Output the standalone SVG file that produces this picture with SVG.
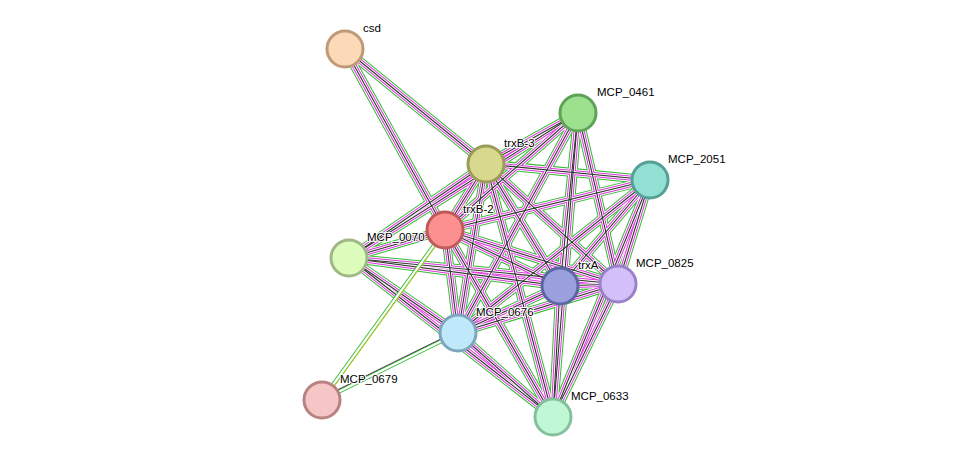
<svg xmlns="http://www.w3.org/2000/svg" xmlns:xlink="http://www.w3.org/1999/xlink" width="976" height="463" viewBox="0 0 976 463">
<style>
text{font-family:"Liberation Sans",Arial,sans-serif;font-size:11.5px;fill:#000;paint-order:stroke;stroke:#fff;stroke-width:2px}
circle{stroke-width:3}
</style>
<defs>
<g id="E" fill="none">
<line x1="345" y1="49" x2="486" y2="164"/><line x1="345" y1="49" x2="445" y2="230"/>
<line x1="578" y1="113" x2="486" y2="164"/><line x1="578" y1="113" x2="445" y2="230"/><line x1="578" y1="113" x2="349" y2="258"/><line x1="578" y1="113" x2="560" y2="286"/><line x1="578" y1="113" x2="618" y2="284"/><line x1="578" y1="113" x2="458" y2="333"/><line x1="578" y1="113" x2="553" y2="417"/>
<line x1="486" y1="164" x2="650" y2="180"/><line x1="486" y1="164" x2="445" y2="230"/><line x1="486" y1="164" x2="349" y2="258"/><line x1="486" y1="164" x2="560" y2="286"/><line x1="486" y1="164" x2="618" y2="284"/><line x1="486" y1="164" x2="458" y2="333"/><line x1="486" y1="164" x2="553" y2="417"/>
<line x1="650" y1="180" x2="445" y2="230"/><line x1="650" y1="180" x2="560" y2="286"/><line x1="650" y1="180" x2="618" y2="284"/><line x1="650" y1="180" x2="458" y2="333"/><line x1="650" y1="180" x2="553" y2="417"/>
<line x1="445" y1="230" x2="349" y2="258"/><line x1="445" y1="230" x2="560" y2="286"/><line x1="445" y1="230" x2="618" y2="284"/><line x1="445" y1="230" x2="458" y2="333"/><line x1="445" y1="230" x2="553" y2="417"/>
<line x1="349" y1="258" x2="560" y2="286"/><line x1="349" y1="258" x2="618" y2="284"/><line x1="349" y1="258" x2="458" y2="333"/><line x1="349" y1="258" x2="553" y2="417"/>
<line x1="560" y1="286" x2="618" y2="284"/><line x1="560" y1="286" x2="458" y2="333"/><line x1="560" y1="286" x2="553" y2="417"/>
<line x1="618" y1="284" x2="458" y2="333"/><line x1="618" y1="284" x2="553" y2="417"/>
<line x1="458" y1="333" x2="553" y2="417"/>
</g>
</defs>
<g id="connectors">
<use xlink:href="#E" stroke="#33bb33" stroke-width="9"/>
<use xlink:href="#E" stroke="#fff" stroke-width="7"/>
<use xlink:href="#E" stroke="#dd33dd" stroke-width="5"/>
<use xlink:href="#E" stroke="#fff" stroke-width="3"/>
<use xlink:href="#E" stroke="#333" stroke-width="1.1"/>
<line x1="445" y1="230" x2="322" y2="400" stroke="#33bb33" stroke-width="4"/>
<line x1="445" y1="230" x2="322" y2="400" stroke="#fff" stroke-width="2.2"/>
<line x1="446" y1="232" x2="323" y2="402" stroke="#cccc22" stroke-width="1"/>
<line x1="458" y1="333" x2="322" y2="400" stroke="#33bb33" stroke-width="4"/>
<line x1="458" y1="333" x2="322" y2="400" stroke="#fff" stroke-width="2.2"/>
<line x1="457" y1="331" x2="321" y2="398" stroke="#444" stroke-width="1"/>
</g>
<g id="csd"><circle cx="345" cy="49" r="18" fill="#fcd9b7" stroke="#c09a78"/><text x="363" y="32">csd</text></g>
<g id="MCP_0461"><circle cx="578" cy="113" r="18" fill="#9de08d" stroke="#5ea357"/><text x="597" y="96">MCP_0461</text></g>
<g id="trxB-3"><circle cx="486" cy="164" r="18" fill="#d8d88e" stroke="#9c9c58"/><text x="504" y="147">trxB-3</text></g>
<g id="MCP_2051"><circle cx="650" cy="180" r="18" fill="#91e0d3" stroke="#55a096"/><text x="668" y="163">MCP_2051</text></g>
<g id="trxB-2"><circle cx="445" cy="230" r="18" fill="#fc9090" stroke="#c05a5a"/><text x="463" y="213">trxB-2</text></g>
<g id="MCP_0070"><circle cx="349" cy="258" r="18" fill="#ddfdbd" stroke="#a0b888"/><text x="367" y="241">MCP_0070</text></g>
<g id="trxA"><circle cx="560" cy="286" r="18" fill="#99a0dc" stroke="#5c66a6"/><text x="578" y="269">trxA</text></g>
<g id="MCP_0825"><circle cx="618" cy="284" r="18" fill="#d4c0f8" stroke="#9a82c8"/><text x="636" y="267">MCP_0825</text></g>
<g id="MCP_0676"><circle cx="458" cy="333" r="18" fill="#bfe8fa" stroke="#7ea6bc"/><text x="476" y="316">MCP_0676</text></g>
<g id="MCP_0679"><circle cx="322" cy="400" r="18" fill="#f6c6c6" stroke="#b88282"/><text x="340" y="383">MCP_0679</text></g>
<g id="MCP_0633"><circle cx="553" cy="417" r="18" fill="#c0f8d6" stroke="#84c09c"/><text x="571" y="400">MCP_0633</text></g>
</svg>
